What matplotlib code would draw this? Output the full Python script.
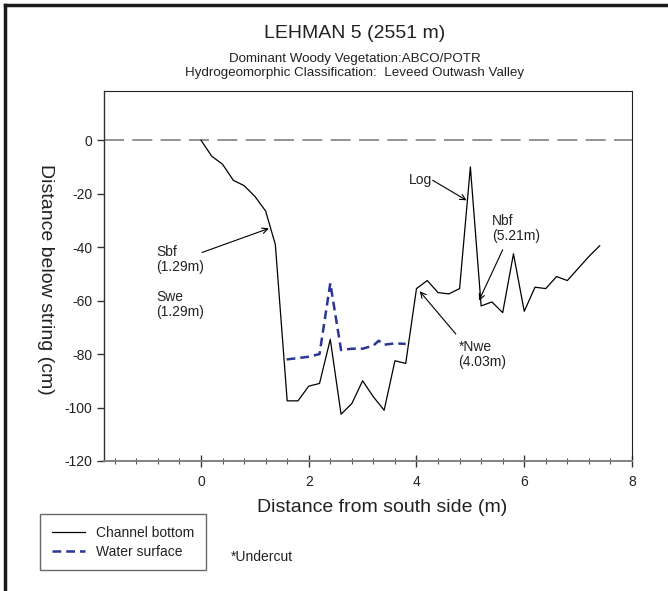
import matplotlib
matplotlib.use("Agg")
import matplotlib.pyplot as plt
from matplotlib.lines import Line2D

plt.rcParams['font.family'] = ['Liberation Sans', 'DejaVu Sans']
plt.rcParams['axes.unicode_minus'] = False

# Channel bottom profile
bottom_x = [0.0, 0.2, 0.4, 0.6, 0.8, 1.0, 1.2, 1.38, 1.6, 1.8, 2.0, 2.2, 2.4, 2.6, 2.8,
            3.0, 3.2, 3.4, 3.6, 3.8, 4.0, 4.2, 4.4, 4.6, 4.8, 5.0, 5.2, 5.4, 5.6, 5.8,
            6.0, 6.2, 6.4, 6.6, 6.8, 7.0, 7.2, 7.4]
bottom_y = [0, -6, -9, -15, -17, -21, -26.5, -39, -97.5, -97.5, -92, -91, -74.5, -102.5, -98.5,
            -90, -96, -101, -82.5, -83.5, -55.5, -52.5, -57, -57.5, -55.5, -10, -62, -60.5, -64.5, -42.5,
            -64, -55, -55.5, -51, -52.5, -48, -43.5, -39.5]

# Water surface profile
water_x = [1.59, 1.8, 2.0, 2.2, 2.4, 2.6, 2.8, 3.0, 3.2, 3.3, 3.4, 3.6, 3.8]
water_y = [-82, -81.5, -81, -80, -53.5, -78.5, -78, -78, -76.8, -75, -76.5, -76, -76.2]

string_y = 0

x_ticks = [0, 2, 4, 6, 8]
y_ticks = [0, -20, -40, -60, -80, -100, -120]

title = "LEHMAN 5 (2551 m)"
subtitle = "Dominant Woody Vegetation:ABCO/POTR\nHydrogeomorphic Classification:  Leveed Outwash Valley"

fig = plt.figure(figsize=(6.68, 5.91), dpi=100)
W, H = 668, 591

def fx(px):
    return px / W

def fy(py):
    return 1 - py / H

ax_l, ax_r, ax_t, ax_b = 104, 632, 91, 461
ax = fig.add_axes([fx(ax_l), fy(ax_b), fx(ax_r) - fx(ax_l), fy(ax_t) - fy(ax_b)])

ax.axhline(string_y, color='#808080', lw=1.2, dashes=(12, 5))
ax.plot(bottom_x, bottom_y, color='black', lw=0.9, label='Channel bottom')
ax.plot(water_x, water_y, color='#2b3593', lw=1.8, dashes=(3.5, 2), label='Water surface')

ax.set_xlim(-1.8, 8)
ax.set_ylim(-120, 18.4)
ax.set_xticks(x_ticks)
ax.set_xticks([v / 10 for v in range(-16, 80, 4) if v % 20 != 0], minor=True)
ax.set_yticks(y_ticks)
ax.tick_params(axis='x', which='major', direction='inout', length=8, width=1, color='#333333', labelsize=10, pad=6)
ax.tick_params(axis='x', which='minor', direction='inout', length=5, width=0.8, color='#555555')
ax.tick_params(axis='y', which='major', direction='out', length=5, width=1, color='#333333', labelsize=10)
for lab in ax.get_xticklabels() + ax.get_yticklabels():
    lab.set_color('#222222')

ax.spines['bottom'].set_color('#808080')
ax.spines['bottom'].set_linewidth(1.4)
ax.spines['left'].set_color('#333333')
ax.spines['left'].set_linewidth(1.0)
ax.spines['top'].set_color('#222222')
ax.spines['right'].set_color('#222222')

ax.set_xlabel("Distance from south side (m)", fontsize=14, color='#222222')
ax.xaxis.set_label_coords((382 - ax_l) / (ax_r - ax_l), -(507 - ax_b) / (ax_b - ax_t))
ax.xaxis.label.set_va('center')
ax.set_ylabel("Distance below string (cm)", fontsize=14, color='#222222', rotation=270)
ax.yaxis.set_label_coords(-(ax_l - 45) / (ax_r - ax_l), 0.49)
ax.yaxis.label.set_va('center')
ax.yaxis.label.set_ha('center')

# Titles
fig.text(fx(355), fy(33), title, ha='center', va='center', fontsize=14, color='#222222')
fig.text(fx(355), fy(66), subtitle, ha='center', va='center', fontsize=9.6, color='#222222', linespacing=1.2)

# Annotations (positions in data coordinates)
arrow = dict(arrowstyle='->', color='black', lw=0.8, shrinkA=0, shrinkB=0)
ax.annotate("", xy=(1.26, -33), xytext=(0.02, -42), arrowprops=arrow)
ax.text(-0.83, -44.5, "Sbf\n(1.29m)", fontsize=10, color='#222222', va='center', ha='left', linespacing=1.1)
ax.text(-0.83, -61.5, "Swe\n(1.29m)", fontsize=10, color='#222222', va='center', ha='left', linespacing=1.1)

ax.annotate("", xy=(4.93, -22.5), xytext=(4.3, -15), arrowprops=arrow)
ax.text(3.85, -15, "Log", fontsize=10, color='#222222', va='center', ha='left')

ax.annotate("", xy=(5.16, -60), xytext=(5.6, -41), arrowprops=arrow)
ax.text(5.4, -33, "Nbf\n(5.21m)", fontsize=10, color='#222222', va='center', ha='left', linespacing=1.1)

ax.annotate("", xy=(4.06, -56.5), xytext=(4.73, -72.5), arrowprops=arrow)
ax.text(4.78, -80, "*Nwe\n(4.03m)", fontsize=10, color='#222222', va='center', ha='left', linespacing=1.1)

# Legend box
handles = [Line2D([0], [0], color='black', lw=0.9),
           Line2D([0], [0], color='#2b3593', lw=1.8, dashes=(3.5, 2))]
leg = fig.legend(handles, ['Channel bottom', 'Water surface'], loc='upper left',
                 bbox_to_anchor=(fx(40), fy(514)), fontsize=10, frameon=True, fancybox=False,
                 edgecolor='#444444', handlelength=2.4, borderpad=0.85, labelspacing=0.35,
                 handletextpad=0.8, borderaxespad=0)
leg.get_frame().set_linewidth(1.0)
for t in leg.get_texts():
    t.set_color('#222222')

fig.text(fx(231), fy(557), "*Undercut", fontsize=10, color='#222222', va='center', ha='left')

# Outer border (top and left)
fig.add_artist(Line2D([fx(5), fx(5)], [fy(5), 0], color='#1a1a1a', lw=2.5, transform=fig.transFigure))
fig.add_artist(Line2D([fx(5), 1], [fy(5), fy(5)], color='#1a1a1a', lw=2.5, transform=fig.transFigure))

fig.savefig("out.png", dpi=100)
